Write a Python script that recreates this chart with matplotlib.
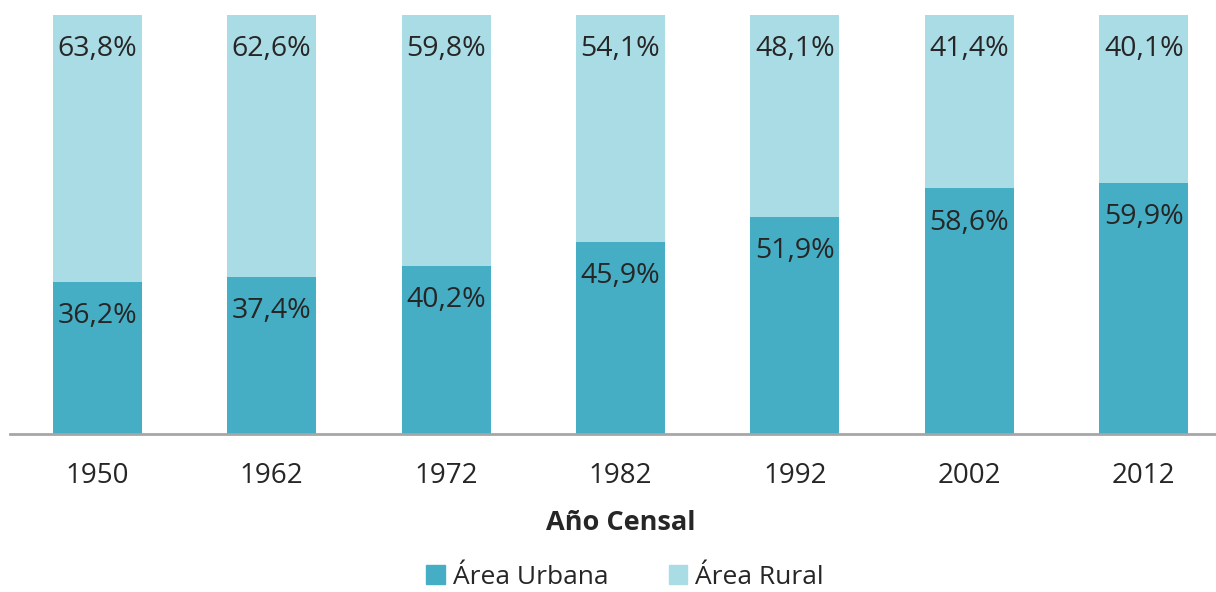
import matplotlib.pyplot as plt
from matplotlib.patches import Patch

plt.rcParams['font.family'] = ['Open Sans', 'DejaVu Sans']

years = ['1950', '1962', '1972', '1982', '1992', '2002', '2012']
urbana = [36.2, 37.4, 40.2, 45.9, 51.9, 58.6, 59.9]
rural = [63.8, 62.6, 59.8, 54.1, 48.1, 41.4, 40.1]

c_urb = '#45aec5'
c_rur = '#aadce6'
txt = '#262626'

fig = plt.figure(figsize=(12.16, 5.92), dpi=100)
ax = fig.add_axes([10 / 1216, 1 - 434 / 592, 1221 / 1216, 419 / 592])

x = range(len(years))
ax.bar(x, urbana, width=0.51, color=c_urb)
ax.bar(x, rural, width=0.51, bottom=urbana, color=c_rur)

def fmt(v):
    return f'{v:.1f}%'.replace('.', ',')

for i in x:
    for top, v in ((urbana[i], urbana[i]), (urbana[i] + rural[i], rural[i])):
        ax.annotate(fmt(v), (i, top), xytext=(0, -24.6), textcoords='offset points',
                    ha='center', va='center', fontsize=20.5, color=txt)

ax.set_xlim(-0.5, 6.5)
ax.set_ylim(0, 100)
ax.set_xticks(list(x))
ax.set_xticklabels(years, fontsize=20, color=txt)
ax.tick_params(axis='x', length=0, pad=20)
ax.set_yticks([])
for s in ('top', 'right', 'left'):
    ax.spines[s].set_visible(False)
ax.spines['bottom'].set_color('#a6a6a6')
ax.spines['bottom'].set_linewidth(2)

fig.text(621 / 1216, 1 - 523 / 592, 'Año Censal', ha='center', va='center',
         fontsize=19.5, fontweight='bold', color=txt)

handles = [Patch(color=c_urb, label='Área Urbana'), Patch(color=c_rur, label='Área Rural')]
fig.legend(handles=handles, loc='center', bbox_to_anchor=(625 / 1216, 1 - 577 / 592),
           ncol=2, frameon=False, fontsize=19, labelcolor=txt, handlelength=0.7,
           handleheight=0.7, handletextpad=0.3, columnspacing=2.3, borderpad=0.1)

fig.savefig('out.png', dpi=100)
